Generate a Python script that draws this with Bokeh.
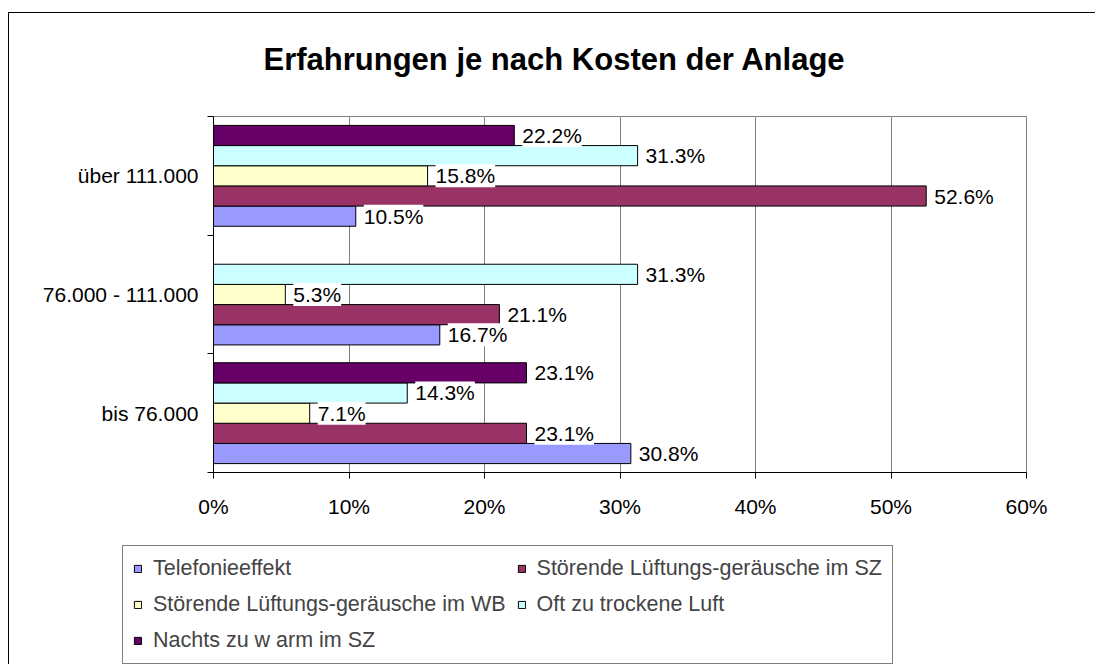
from bokeh.plotting import figure
from bokeh.models import (ColumnDataSource, FixedTicker, PrintfTickFormatter,
                          LabelSet, Legend, LegendItem, Div)
from bokeh.core.properties import value
from bokeh.embed import file_html
from bokeh.resources import INLINE

# ---------------- data ----------------
categories = ["bis 76.000", "76.000 - 111.000", "über 111.000"]
series_names = ["Telefonieeffekt",
                "Störende Lüftungs-geräusche im SZ",
                "Störende Lüftungs-geräusche im WB",
                "Oft zu trockene Luft",
                "Nachts zu w arm im SZ"]
telefonie = [30.8, 16.7, 10.5]
stoer_sz = [23.1, 21.1, 52.6]
stoer_wb = [7.1, 5.3, 15.8]
trocken = [14.3, 31.3, 31.3]
nachts = [23.1, None, 22.2]
x_ticks = [0, 10, 20, 30, 40, 50, 60]

series_values = [telefonie, stoer_sz, stoer_wb, trocken, nachts]
colors = ["#9999FF", "#993366", "#FFFFCC", "#CCFFFF", "#660066"]
offsets = [-0.34, -0.17, 0.0, 0.17, 0.34]
BAR_H = 0.17
FONT = "Liberation Sans"
W = 1096
H_MAIN = 540
H_LEG = 125

cat_pos = {c: i + 0.5 for i, c in enumerate(categories)}

# outer chart border (top and left edge, the rest runs off the picture)
frame_border = Div(text="", width=1087, height=652, margin=0, styles={
    "position": "absolute", "left": "8px", "top": "12px",
    "box-sizing": "border-box",
    "border-top": "1px solid #000", "border-left": "1px solid #000",
    "pointer-events": "none",
})

p = figure(width=W, height=H_MAIN, x_range=(0, 60), y_range=(0, 3),
           output_backend="svg", toolbar_location=None,
           min_border_left=213, min_border_right=70,
           min_border_top=116, min_border_bottom=H_MAIN - 472)
p.background_fill_color = "white"
p.border_fill_color = None
p.outline_line_color = "#808080"
p.outline_line_width = 1

for name, vals, col, off in zip(series_names, series_values, colors, offsets):
    ys, xs, labels = [], [], []
    for c, v in zip(categories, vals):
        if v is None:
            continue
        ys.append(cat_pos[c] + off)
        xs.append(v)
        labels.append(f"{v:.1f}%")
    src = ColumnDataSource(dict(y=ys, x=xs, label=labels))
    p.hbar(y="y", right="x", left=0, height=BAR_H, source=src,
           fill_color=col, line_color="black", line_width=1)
    ls = LabelSet(x="x", y="y", text="label", source=src, x_offset=8,
                  text_baseline="middle", text_align="left",
                  text_font=value(FONT), text_font_size="21px", text_color="black",
                  background_fill_color="white")
    p.add_layout(ls)

# axes
p.xaxis.ticker = FixedTicker(ticks=x_ticks)
p.xaxis.formatter = PrintfTickFormatter(format="%d%%")
p.xaxis.major_tick_out = 6
p.xaxis.major_tick_in = 0
p.xaxis.minor_tick_line_color = None
p.xaxis.major_label_standoff = 16
p.xaxis.axis_line_color = "black"
p.xaxis.major_tick_line_color = "black"

p.yaxis.ticker = FixedTicker(ticks=[cat_pos[c] for c in categories],
                             minor_ticks=[0, 1, 2, 3])
p.yaxis.major_label_overrides = {cat_pos[c]: c for c in categories}
p.yaxis.major_tick_line_color = None
p.yaxis.major_tick_out = 0
p.yaxis.major_tick_in = 0
p.yaxis.minor_tick_out = 6
p.yaxis.minor_tick_in = 0
p.yaxis.minor_tick_line_color = "black"
p.yaxis.major_label_standoff = 9
p.yaxis.axis_line_color = "black"

for ax in (p.xaxis, p.yaxis):
    ax.major_label_text_font = FONT
    ax.major_label_text_font_size = "21px"
    ax.major_label_text_color = "black"

p.xgrid.ticker = FixedTicker(ticks=x_ticks)
p.xgrid.grid_line_color = "#808080"
p.ygrid.grid_line_color = None

# title
p.title.text = "Erfahrungen je nach Kosten der Anlage"
p.title.align = "left"
p.title.offset = 50
p.title.standoff = 79
p.title.text_font = FONT
p.title.text_font_size = "31px"
p.title.text_font_style = "bold"
p.title.text_color = "black"

# legend panel (separate canvas below the chart)
pl = figure(width=W, height=H_LEG, x_range=(0, 1), y_range=(0, 1),
            output_backend="svg", toolbar_location=None,
            x_axis_location=None, y_axis_location=None,
            min_border=0)
pl.outline_line_color = None
pl.background_fill_color = None
pl.border_fill_color = None
pl.xgrid.grid_line_color = None
pl.ygrid.grid_line_color = None
# legend swatches: one bar per series kept outside the visible range of this panel
leg_renderers = []
for col, vals in zip(colors, series_values):
    r = pl.hbar(y=[-5], right=[vals[0]], left=0, height=0.1,
                fill_color=col, line_color="black", line_width=1)
    leg_renderers.append(r)
items = [LegendItem(label=n, renderers=[r]) for n, r in zip(series_names, leg_renderers)]
legend = Legend(items=items, location=(122, 1), orientation="horizontal", ncols=2,
                border_line_color="black", border_line_width=1,
                background_fill_color="white", background_fill_alpha=1,
                label_text_font=FONT, label_text_font_size="21.5px",
                glyph_width=9, glyph_height=9, label_standoff=11,
                spacing=11, padding=10, margin=0, label_height=25)
pl.add_layout(legend)

open("out.html", "w").write(file_html([frame_border, p, pl], INLINE))
